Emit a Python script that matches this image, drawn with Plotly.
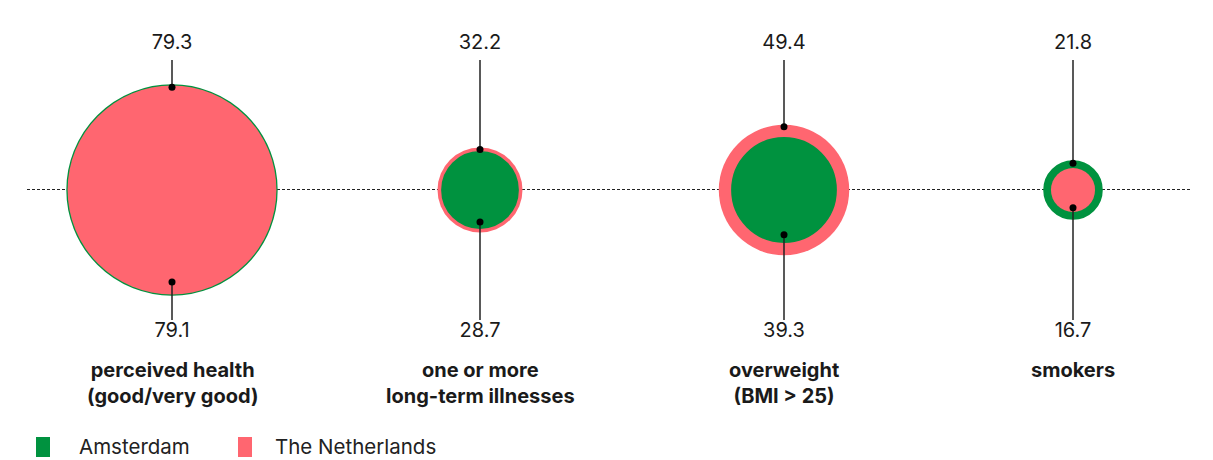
import plotly.graph_objects as go

# Health indicators, Amsterdam vs The Netherlands (% of the population)
categories = ["perceived health<br>(good/very good)",
              "one or more<br>long-term illnesses",
              "overweight<br>(BMI > 25)",
              "smokers"]
amsterdam = [79.3, 28.7, 39.3, 21.8]
netherlands = [79.1, 32.2, 49.4, 16.7]
series_names = ["Amsterdam", "The Netherlands"]

# layout helpers (pixel-based axes)
W, H = 1213, 460
CY = 190                      # pixel row of the baseline
x_pos = [172, 480, 784, 1073]
K = 1.32                      # radius in px per percentage point
GREEN = "#00923F"
PINK = "#FF6670"
INK = "#1a1a1a"
FONT = "Inter"


def py(pixel_y):
    """pixel row -> data y (axis spans the whole canvas)"""
    return CY - pixel_y


fig = go.Figure()

# dotted baseline
fig.add_trace(go.Scatter(x=[27, 1190], y=[0.5, 0.5], mode="lines",
                         line=dict(color="#222", width=1, dash="3px,2px"),
                         hoverinfo="skip", showlegend=False))

# circles: larger value underneath, smaller on top
big_x, big_s, big_c = [], [], []
small_x, small_s, small_c = [], [], []
for i, (a, n) in enumerate(zip(amsterdam, netherlands)):
    pairs = [(a, GREEN), (n, PINK)]
    pairs.sort(key=lambda p: -p[0])
    (bv, bc), (sv, sc) = pairs
    big_x.append(x_pos[i]); big_s.append(2 * K * bv); big_c.append(bc)
    small_x.append(x_pos[i]); small_s.append(2 * K * sv); small_c.append(sc)

for xs, ss, cs in [(big_x, big_s, big_c), (small_x, small_s, small_c)]:
    fig.add_trace(go.Scatter(
        x=xs, y=[0] * len(xs), mode="markers",
        marker=dict(size=ss, color=cs, opacity=1,
                    line=dict(color=[GREEN if c == GREEN else "rgba(0,0,0,0)" for c in cs],
                              width=2)),
        hoverinfo="skip", showlegend=False))

# stems and dots
stem_x, stem_y, dot_x, dot_y = [], [], [], []
top_lbl_y, bot_lbl_y = py(44), py(332)
for i, (a, n) in enumerate(zip(amsterdam, netherlands)):
    hi, lo = max(a, n), min(a, n)
    y_top = K * hi - 2
    y_bot = -(0.9 * K * lo - 2)
    stem_x += [x_pos[i], x_pos[i], None, x_pos[i], x_pos[i], None]
    stem_y += [py(60), y_top, None, y_bot, py(320), None]
    dot_x += [x_pos[i], x_pos[i]]
    dot_y += [y_top, y_bot]

fig.add_trace(go.Scatter(x=stem_x, y=stem_y, mode="lines",
                         line=dict(color="#222", width=1.5),
                         hoverinfo="skip", showlegend=False))
fig.add_trace(go.Scatter(x=dot_x, y=dot_y, mode="markers",
                         marker=dict(size=7, color="#000"),
                         hoverinfo="skip", showlegend=False))

# value labels
hi_vals = [max(a, n) for a, n in zip(amsterdam, netherlands)]
lo_vals = [min(a, n) for a, n in zip(amsterdam, netherlands)]
fig.add_trace(go.Scatter(x=x_pos, y=[top_lbl_y] * 4, mode="text",
                         text=[f"{v:.1f}" for v in hi_vals],
                         textfont=dict(family=FONT, size=20, color=INK),
                         hoverinfo="skip", showlegend=False))
fig.add_trace(go.Scatter(x=x_pos, y=[bot_lbl_y] * 4, mode="text",
                         text=[f"{v:.1f}" for v in lo_vals],
                         textfont=dict(family=FONT, size=20, color=INK),
                         hoverinfo="skip", showlegend=False))

# category labels
for i, c in enumerate(categories):
    fig.add_annotation(x=x_pos[i], y=py(356), text=c,
                       showarrow=False, yanchor="top", xanchor="center",
                       font=dict(family=FONT, size=20, color=INK, weight=700))

# legend
legend_items = [(36, 77, GREEN, series_names[0]), (238, 273, PINK, series_names[1])]
for sx, tx, col, name in legend_items:
    fig.add_shape(type="rect", x0=sx, x1=sx + 14, y0=py(437), y1=py(457),
                  fillcolor=col, line=dict(width=0), layer="above")
    fig.add_annotation(x=tx, y=py(446), text=name, showarrow=False,
                       xanchor="left", yanchor="middle",
                       font=dict(family=FONT, size=20.5, color="#222"))

fig.update_layout(
    width=W, height=H, autosize=False,
    margin=dict(l=0, r=0, t=0, b=0),
    paper_bgcolor="white", plot_bgcolor="white",
    xaxis=dict(range=[0, W], visible=False, fixedrange=True),
    yaxis=dict(range=[CY - H, CY], visible=False, fixedrange=True),
    showlegend=False,
)

fig.write_html("out.html")
